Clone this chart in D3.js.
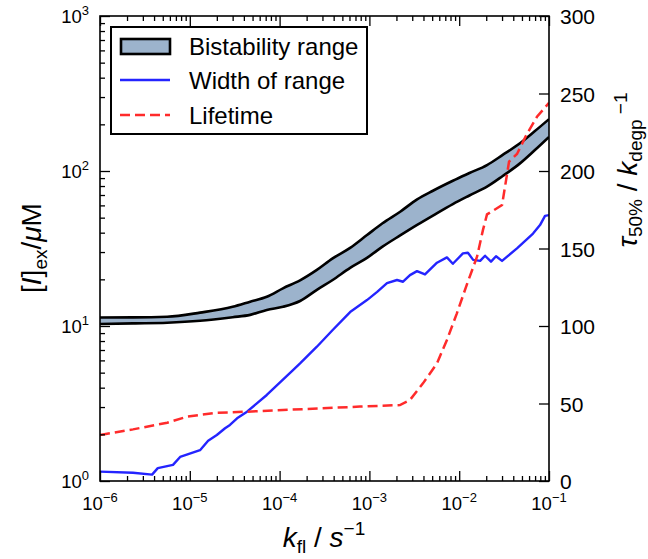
<!DOCTYPE html>
<html><head><meta charset="utf-8">
<script src="https://cdn.jsdelivr.net/npm/d3@7"></script>
<style>body{margin:0;background:#fff} svg{display:block} text{font-family:"Liberation Sans",Arial,Helvetica,sans-serif;fill:#000}</style>
</head><body><svg id="c" width="648" height="559"></svg>
<script>
// ---- data ----
const bandK     = [1e-6, 2.33e-6, 5.6e-6, 1.3e-5, 3.0e-5, 4.7e-5, 7.2e-5, 1.09e-4, 1.69e-4, 2.6e-4, 3.9e-4, 6.1e-4, 9.4e-4, 1.4e-3, 2.2e-3, 3.4e-3, 5.1e-3, 8.5e-3, 0.013, 0.0204, 0.0305, 0.0475, 0.0697, 0.1];
const bandUpper = [11.35, 11.36, 11.47, 12.2, 13.3, 14.35, 15.45, 17.5, 19.7, 23.0, 27.3, 31.9, 38.6, 46.0, 54.6, 65.6, 74.6, 86.5, 97, 109.3, 127, 151, 181, 216];
const bandLower = [10.3, 10.4, 10.5, 10.8, 11.4, 11.8, 12.7, 13.3, 14.5, 17.1, 19.8, 23.7, 27.5, 32.5, 38.4, 44.9, 51.6, 61.2, 69.5, 79.2, 92.8, 112, 136.6, 166];

const widthK    = [1e-6, 2.33e-6, 3.8e-6, 4.4e-6, 6.5e-6, 7.8e-6, 1.3e-5, 1.6e-5, 2.0e-5, 2.47e-5, 2.8e-5, 3.36e-5, 4.34e-5, 7.2e-5, 1.41e-4, 1.69e-4, 2.6e-4, 3.9e-4, 6.1e-4, 9.4e-4, 1.22e-3, 1.57e-3, 2.03e-3, 2.37e-3, 2.83e-3, 3.39e-3, 4.16e-3, 5.66e-3, 7.3e-3, 8.5e-3, 0.011, 0.0125, 0.0143, 0.0171, 0.0194, 0.0226, 0.0257, 0.030, 0.044, 0.0664, 0.0794, 0.0903, 0.1];
const widthVals = [1.15, 1.13, 1.10, 1.21, 1.27, 1.43, 1.58, 1.82, 1.98, 2.19, 2.3, 2.54, 2.80, 3.59, 5.2, 5.74, 7.35, 9.42, 12.3, 14.7, 16.6, 18.9, 19.8, 19.3, 21.3, 22.6, 21.5, 25.6, 27.7, 25.2, 29.4, 29.7, 26.7, 26.3, 28.4, 26.0, 28.2, 26.3, 31.7, 39.5, 44.8, 51.3, 51.9];

const lifeK     = [1e-6, 2.33e-6, 5.6e-6, 9.3e-6, 2.0e-5, 4.3e-5, 1.09e-4, 7.85e-4, 2.19e-3, 2.83e-3, 3.95e-3, 5.66e-3, 7.3e-3, 9.4e-3, 0.0123, 0.0158, 0.0184, 0.0204, 0.030, 0.0359, 0.044, 0.0569, 0.0735, 0.1];
const lifeVals  = [29.7, 33.3, 37.6, 41.5, 44, 44.7, 45.8, 48, 49, 52.3, 63, 75.9, 91, 108, 127.5, 144.7, 162, 172, 178, 206, 211, 224, 235, 244];

const xTickExps      = [-6, -5, -4, -3, -2, -1];
const yLeftTickExps  = [0, 1, 2, 3];
const yRightTicks    = [0, 50, 100, 150, 200, 250, 300];
const legendLabels   = ["Bistability range", "Width of range", "Lifetime"];

// ---- layout ----
const L = 100, R = 549, T = 16, B = 481;
const svg = d3.select("#c");
const x  = d3.scaleLog().domain([1e-6, 1e-1]).range([L, R]);
const y  = d3.scaleLog().domain([1, 1000]).range([B, T]);
const y2 = d3.scaleLinear().domain([0, 300]).range([B, T]);

const bandColor = "#9cb3cc", blue = "#2424ff", red = "#ff2b2b";

svg.append("defs").append("clipPath").attr("id", "clip")
  .append("rect").attr("x", L).attr("y", T).attr("width", R - L).attr("height", B - T);

const plot = svg.append("g").attr("clip-path", "url(#clip)");

const band = bandK.map((k, i) => ({k, u: bandUpper[i], l: bandLower[i]}));
plot.append("path").datum(band)
  .attr("d", d3.area().x(d => x(d.k)).y0(d => y(d.l)).y1(d => y(d.u)).curve(d3.curveMonotoneX))
  .attr("fill", bandColor);
plot.append("path").datum(band)
  .attr("d", d3.line().x(d => x(d.k)).y(d => y(d.u)).curve(d3.curveMonotoneX))
  .attr("fill", "none").attr("stroke", "#000").attr("stroke-width", 2.6);
plot.append("path").datum(band)
  .attr("d", d3.line().x(d => x(d.k)).y(d => y(d.l)).curve(d3.curveMonotoneX))
  .attr("fill", "none").attr("stroke", "#000").attr("stroke-width", 2.6);

plot.append("path").datum(widthK.map((k, i) => [k, widthVals[i]]))
  .attr("d", d3.line().x(d => x(d[0])).y(d => y(d[1])))
  .attr("fill", "none").attr("stroke", blue).attr("stroke-width", 2.4)
  .attr("stroke-linejoin", "round");

plot.append("path").datum(lifeK.map((k, i) => [k, lifeVals[i]]))
  .attr("d", d3.line().x(d => x(d[0])).y(d => y2(d[1])))
  .attr("fill", "none").attr("stroke", red).attr("stroke-width", 2.5)
  .attr("stroke-dasharray", "10,5");

// ---- axes ----
const isMajor = v => Math.abs(Math.log10(v) - Math.round(Math.log10(v))) < 1e-6;
function styleLogAxis(g, vertical, sign) {
  g.select(".domain").remove();
  g.selectAll(".tick line")
    .attr(vertical ? "x2" : "y2", d => sign * (isMajor(d) ? 10 : 5))
    .attr("stroke", "#000").attr("stroke-width", 1.3);
  g.selectAll(".tick text").remove();
}
const xTicks = x.ticks();
const yTicks = y.ticks();
svg.append("g").attr("transform", `translate(0,${B})`)
  .call(d3.axisBottom(x).tickValues(xTicks).tickFormat(""))
  .call(g => styleLogAxis(g, false, -1));
svg.append("g").attr("transform", `translate(0,${T})`)
  .call(d3.axisTop(x).tickValues(xTicks).tickFormat(""))
  .call(g => styleLogAxis(g, false, 1));
svg.append("g").attr("transform", `translate(${L},0)`)
  .call(d3.axisLeft(y).tickValues(yTicks).tickFormat(""))
  .call(g => styleLogAxis(g, true, 1));
const gr = svg.append("g").attr("transform", `translate(${R},0)`)
  .call(d3.axisRight(y2).tickValues(yRightTicks).tickSize(-10).tickPadding(11)
    .tickFormat(d3.format("d")));
gr.select(".domain").remove();
gr.selectAll(".tick line").attr("stroke", "#000").attr("stroke-width", 1.3);
gr.selectAll(".tick text").attr("font-size", 21).attr("dy", "0.36em")
  .attr("font-family", "'Liberation Sans',Arial,sans-serif").attr("fill", "#000");

// frame
svg.append("rect").attr("x", L).attr("y", T).attr("width", R - L).attr("height", B - T)
  .attr("fill", "none").attr("stroke", "#000").attr("stroke-width", 1.6);

// power labels
function powLabel(sel, e) {
  sel.append("tspan").text("10");
  sel.append("tspan").attr("font-size", 13).attr("dy", -8)
    .text(e < 0 ? "\u2212" + (-e) : String(e));
}
xTickExps.forEach(e => {
  const t = svg.append("text").attr("x", x(Math.pow(10, e))).attr("y", B + 29)
    .attr("text-anchor", "middle").attr("font-size", 18.5);
  powLabel(t, e);
});
yLeftTickExps.forEach(e => {
  const t = svg.append("text").attr("x", 89).attr("y", y(Math.pow(10, e)) + 7)
    .attr("text-anchor", "end").attr("font-size", 18.5);
  powLabel(t, e);
});

// axis titles
const xt = svg.append("text").attr("x", 324).attr("y", 547).attr("text-anchor", "middle").attr("font-size", 28);
xt.append("tspan").attr("font-style", "italic").text("k");
xt.append("tspan").attr("font-size", 19).attr("dy", 6).text("fl");
xt.append("tspan").attr("dy", -6).text(" / ");
xt.append("tspan").attr("font-style", "italic").text("s");
xt.append("tspan").attr("font-size", 19).attr("dy", -12).text("\u22121");

const yl = svg.append("text").attr("transform", "translate(41,248) rotate(-90)")
  .attr("text-anchor", "middle").attr("font-size", 28);
yl.append("tspan").text("[");
yl.append("tspan").attr("font-style", "italic").text("I");
yl.append("tspan").text("]");
yl.append("tspan").attr("font-size", 19).attr("dy", 6).text("ex");
yl.append("tspan").attr("dy", -6).text("/");
yl.append("tspan").attr("font-style", "italic").text("\u03bc");
yl.append("tspan").text("M");

const yr = svg.append("text").attr("transform", "translate(637,170) rotate(-90)")
  .attr("text-anchor", "middle").attr("font-size", 28);
yr.append("tspan").attr("font-style", "italic").text("\u03c4");
yr.append("tspan").attr("font-size", 19).attr("dy", 5).text("50%");
yr.append("tspan").attr("dy", -5).text(" / ");
yr.append("tspan").attr("font-style", "italic").text("k");
yr.append("tspan").attr("font-size", 19).attr("dy", 5).text("degp");
yr.append("tspan").attr("font-size", 19).attr("dy", -15).text(" \u22121");

// legend
const lg = svg.append("g");
lg.append("rect").attr("x", 111).attr("y", 27).attr("width", 256).attr("height", 107)
  .attr("fill", "#fff").attr("stroke", "#000").attr("stroke-width", 2);
lg.append("rect").attr("x", 121).attr("y", 39).attr("width", 49).attr("height", 15)
  .attr("fill", bandColor).attr("stroke", "#000").attr("stroke-width", 2.6);
lg.append("line").attr("x1", 120).attr("x2", 170).attr("y1", 80).attr("y2", 80)
  .attr("stroke", blue).attr("stroke-width", 2.4);
lg.append("line").attr("x1", 120).attr("x2", 170).attr("y1", 115).attr("y2", 115)
  .attr("stroke", red).attr("stroke-width", 2.5).attr("stroke-dasharray", "10,5");
const baselines = [54.5, 88.5, 123.5];
legendLabels.forEach((s, i) => {
  lg.append("text").attr("x", 189).attr("y", baselines[i]).attr("font-size", 24).text(s);
});
</script></body></html>
